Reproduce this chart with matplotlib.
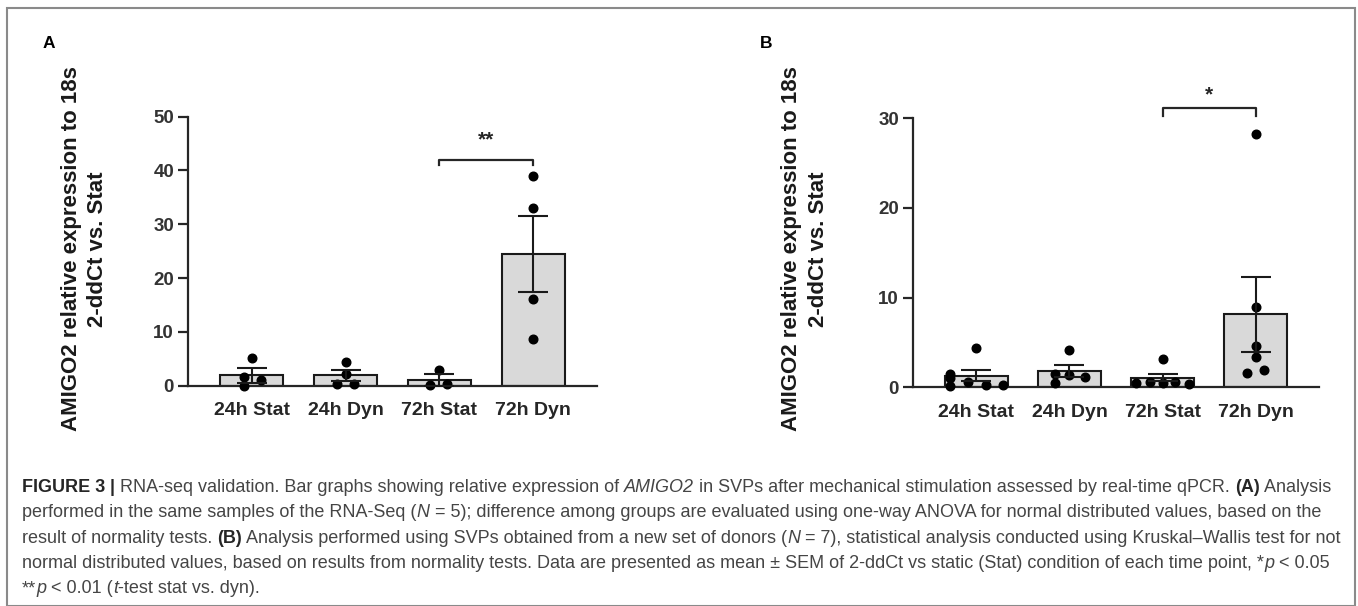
import matplotlib
matplotlib.use("Agg")
import matplotlib.pyplot as plt
import numpy as np
from matplotlib.patches import Rectangle

# ---------------- data ----------------
categories = ["24h Stat", "24h Dyn", "72h Stat", "72h Dyn"]

a_means = [1.9, 1.9, 1.1, 24.4]
a_sems = [1.4, 1.0, 1.1, 7.05]
a_points = [[5.2, 1.7, 0.0, 1.0],
            [4.4, 2.1, 0.4, 0.4],
            [3.0, 0.1, 0.3],
            [39.0, 33.0, 16.1, 8.7]]
a_yticks = [0, 10, 20, 30, 40, 50]

b_means = [1.3, 1.83, 1.08, 8.15]
b_sems = [0.62, 0.65, 0.4, 4.2]
b_points = [[4.4, 1.5, 1.0, 0.2, 0.6, 0.3, 0.3],
            [4.2, 1.5, 1.4, 1.2, 0.5],
            [3.15, 0.5, 0.6, 0.5, 0.6, 0.4],
            [28.3, 9.0, 4.56, 3.4, 1.65, 1.95]]
b_yticks = [0, 10, 20, 30]

# horizontal scatter offsets (layout only)
a_jitter = [[0.0, -0.08, -0.08, 0.1],
            [0.0, 0.0, -0.09, 0.09],
            [0.0, -0.1, 0.08],
            [0.0, 0.0, 0.0, 0.0]]
b_jitter = [[0.0, -0.28, -0.28, -0.28, -0.09, 0.1, 0.29],
            [0.0, -0.16, 0.0, 0.17, -0.16],
            [0.0, -0.28, -0.13, 0.0, 0.13, 0.28],
            [0.0, 0.0, 0.0, 0.0, -0.09, 0.09]]

W, H = 1358, 606
fig = plt.figure(figsize=(W / 100, H / 100), dpi=100)
FONT = "Liberation Sans"


def px_ax(left, right, top, bottom):
    return [left / W, 1 - bottom / H, (right - left) / W, (bottom - top) / H]


def draw_panel(rect, means, sems, points, jitter, yticks, ymax, sig, sig_y, sig_drop):
    ax = fig.add_axes(rect)
    x = np.arange(len(categories))
    ax.bar(x, means, width=0.67, color="#d9d9d9", edgecolor="#1a1a1a", linewidth=1.5, zorder=2)
    for i, (pts, jit) in enumerate(zip(points, jitter)):
        ax.plot(np.full(len(pts), x[i]) + np.array(jit), pts, "o", color="black",
                markersize=6.2, zorder=4, clip_on=False)
    ax.errorbar(x, means, yerr=sems, fmt="none", ecolor="#1a1a1a", elinewidth=1.5,
                capsize=11, capthick=1.5, zorder=5)
    ax.set_xlim(-0.68, 3.68)
    ax.set_ylim(0, ymax)
    ax.set_yticks(yticks)
    ax.set_xticks(x)
    ax.set_xticklabels(categories)
    for s in ["top", "right"]:
        ax.spines[s].set_visible(False)
    for s in ["left", "bottom"]:
        ax.spines[s].set_linewidth(1.6)
        ax.spines[s].set_color("#262626")
    ax.tick_params(axis="y", length=7, width=1.6, color="#262626", labelsize=13.5,
                   labelcolor="#333333", pad=3)
    ax.tick_params(axis="x", length=0, labelsize=14, labelcolor="#262626", pad=12)
    for lab in ax.get_xticklabels() + ax.get_yticklabels():
        lab.set_fontweight("bold")
        lab.set_family(FONT)
    x0, x1 = sig
    ax.plot([x0, x0, x1, x1], [sig_y - sig_drop, sig_y, sig_y, sig_y - sig_drop],
            color="#262626", lw=1.6, clip_on=False)
    return ax


axA = draw_panel(px_ax(188, 597, 116.7, 385.7), a_means, a_sems, a_points, a_jitter,
                 a_yticks, 50, (2, 3), 42.0, 1.0)
axA.text(2.5, 44.0, "**", ha="center", va="bottom", fontsize=15, fontweight="bold",
         color="#262626", family=FONT)
axB = draw_panel(px_ax(913, 1319, 118.3, 387.3), b_means, b_sems, b_points, b_jitter,
                 b_yticks, 30, (2, 3), 31.2, 0.9)
axB.text(2.5, 31.6, "*", ha="center", va="bottom", fontsize=15, fontweight="bold",
         color="#262626", family=FONT)

# y labels
for x1, x2 in [(72, 98), (792, 818)]:
    fig.text(x1 / W, 1 - 249 / H, "AMIGO2 relative expression to 18s", rotation=90,
             ha="center", va="center", fontsize=16, fontweight="bold", color="#1a1a1a", family=FONT)
    fig.text(x2 / W, 1 - 249 / H, "2-ddCt vs. Stat", rotation=90,
             ha="center", va="center", fontsize=16, fontweight="bold", color="#1a1a1a", family=FONT)

# panel letters
fig.text(49 / W, 1 - 43 / H, "A", ha="center", va="center", fontsize=12.5, fontweight="bold",
         color="black", family=FONT)
fig.text(766 / W, 1 - 43 / H, "B", ha="center", va="center", fontsize=12.5, fontweight="bold",
         color="black", family=FONT)

# outer frame
fig.add_artist(Rectangle((7 / W, 0), (1355 - 7) / W, 1 - 8 / H, transform=fig.transFigure,
                         fill=False, edgecolor="#8a8a8a", linewidth=1.5))

# ---------------- caption ----------------
renderer = fig.canvas.get_renderer()
CAP_SIZE = 13.0


def style_kw(style):
    kw = dict(fontsize=CAP_SIZE, family=FONT, color="#454545")
    if "b" in style:
        kw["fontweight"] = "bold"
        kw["color"] = "#262626"
    if "i" in style:
        kw["fontstyle"] = "italic"
    return kw


def adv(s, kw):
    t1 = fig.text(0, 0, "|" + s + "|", **kw)
    t2 = fig.text(0, 0, "||", **kw)
    w = t1.get_window_extent(renderer).width - t2.get_window_extent(renderer).width
    t1.remove()
    t2.remove()
    return w


caption_lines = [
    [("FIGURE 3 ", "b"), ("| ", "b"), ("RNA-seq validation. Bar graphs showing relative expression of ", ""),
     ("AMIGO2", "i"), (" in SVPs after mechanical stimulation assessed by real-time qPCR. ", ""),
     ("(A)", "b"), (" Analysis", "")],
    [("performed in the same samples of the RNA-Seq (", ""), ("N", "i"),
     (" = 5); difference among groups are evaluated using one-way ANOVA for normal distributed values, based on the", "")],
    [("result of normality tests. ", ""), ("(B)", "b"),
     (" Analysis performed using SVPs obtained from a new set of donors (", ""), ("N", "i"),
     (" = 7), statistical analysis conducted using Kruskal\u2013Wallis test for not", "")],
    [("normal distributed values, based on results from normality tests. Data are presented as mean \u00b1 SEM of 2-ddCt vs static (Stat) condition of each time point, *", ""),
     ("p", "i"), (" < 0.05", "")],
    [("**", ""), ("p", "i"), (" < 0.01 (", ""), ("t", "i"), ("-test stat vs. dyn).", "")],
]
baselines = [492, 517, 543, 568, 593]
for runs, yb in zip(caption_lines, baselines):
    x = 22.0
    for s, st in runs:
        kw = style_kw(st)
        fig.text(x / W, 1 - yb / H, s, ha="left", va="baseline", **kw)
        x += adv(s, kw)

fig.savefig("out.png", dpi=100)
